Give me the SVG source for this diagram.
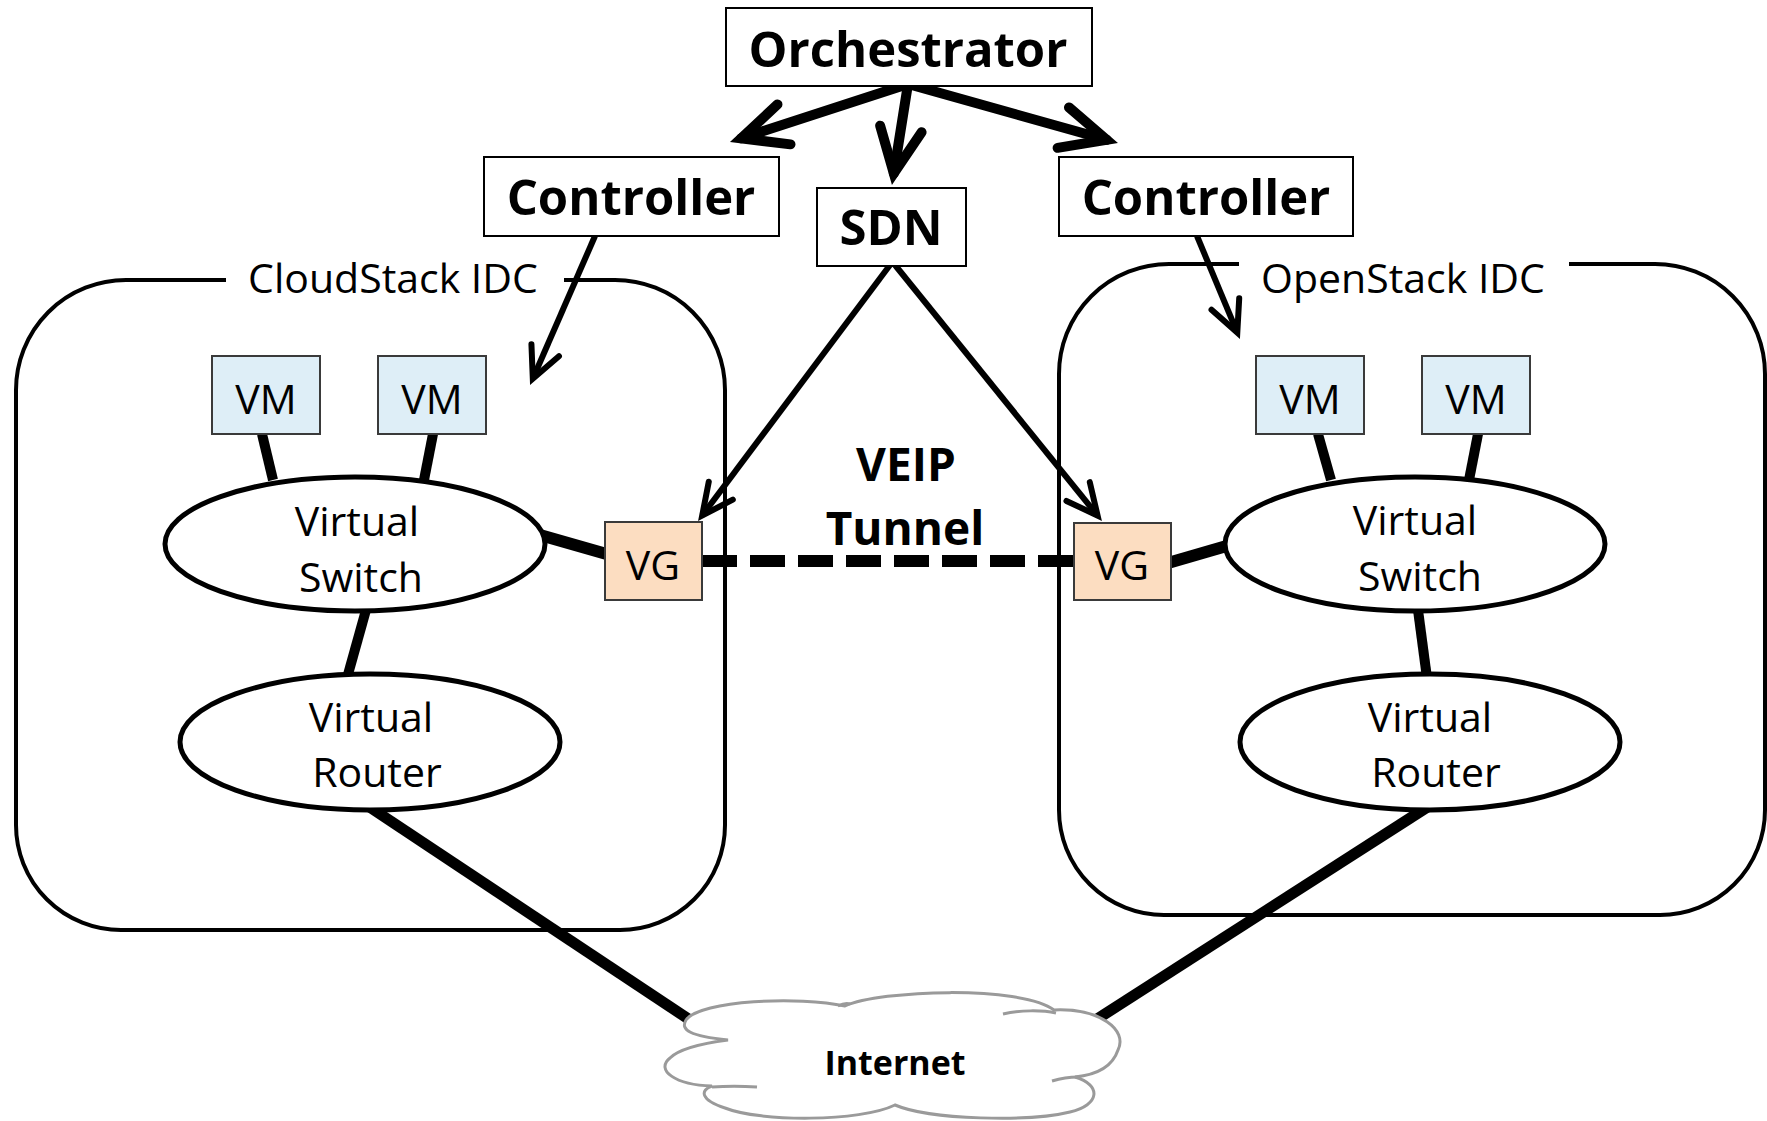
<svg xmlns="http://www.w3.org/2000/svg" width="1767" height="1121" viewBox="0 0 1767 1121">
<style>
.box{fill:#fff;stroke:#000;stroke-width:2}
.vm{fill:#DEEEF7;stroke:#3a3a3a;stroke-width:2}
.vg{fill:#FCDDC1;stroke:#3a3a3a;stroke-width:2}
.ell{fill:#fff;stroke:#000;stroke-width:5}
.cont{fill:none;stroke:#000;stroke-width:4}
.cloud{fill:#fff;stroke:#9a9a9a;stroke-width:3}
.curl{fill:none;stroke:#9a9a9a;stroke-width:3}
.t{font-family:"Open Sans","Noto Sans",sans-serif;text-anchor:middle;fill:#000}
.b{font-weight:bold;font-size:49px}
.r{font-size:41px}
.ln{stroke:#000;fill:none}
.w10{stroke-width:10}
.w11{stroke-width:11}
.w12{stroke-width:12}
.ab{stroke-width:10;stroke-linecap:round;marker-end:url(#headBig)}
.as{stroke-width:6;marker-end:url(#headSmall)}
.dash{stroke-width:12;stroke-dasharray:35 13}
</style>
<defs>
<marker id="headBig" markerUnits="userSpaceOnUse" viewBox="-60 -35 80 70" refX="0" refY="0" markerWidth="80" markerHeight="70" orient="auto">
<path d="M-45,-21 L0,0 L-45,21" fill="none" stroke="#000" stroke-width="10" stroke-linecap="round" stroke-linejoin="miter"/>
</marker>
<marker id="headSmall" markerUnits="userSpaceOnUse" viewBox="-45 -25 60 50" refX="0" refY="0" markerWidth="60" markerHeight="50" orient="auto">
<path d="M-31,-15 L0,0 L-31,15" fill="none" stroke="#000" stroke-width="6" stroke-linecap="round" stroke-linejoin="miter"/>
</marker>
</defs>
<rect width="1767" height="1121" fill="#fff"/>

<g id="cloudstack-idc">
<path class="cont" d="M226,280 H126 A110,110 0 0 0 16,390 V825 A105,105 0 0 0 121,930 H620 A105,105 0 0 0 725,825 V390 A110,110 0 0 0 615,280 H564"/>
<text class="t r" x="393" y="293">CloudStack IDC</text>
</g>
<g id="openstack-idc">
<path class="cont" d="M1239,264 H1169 A110,110 0 0 0 1059,374 V810 A105,105 0 0 0 1164,915 H1660 A105,105 0 0 0 1765,810 V374 A110,110 0 0 0 1655,264 H1569"/>
<text class="t r" x="1403" y="293">OpenStack IDC</text>
</g>

<g id="connectors">
<line class="ln ab" x1="908" y1="84" x2="741.2" y2="138.3"/>
<line class="ln ab" x1="908" y1="84" x2="893.8" y2="173.4"/>
<line class="ln ab" x1="908" y1="84" x2="1106.6" y2="139.8"/>
<line class="ln as" x1="595" y1="236" x2="532.8" y2="378.7"/>
<line class="ln as" x1="1197" y1="236" x2="1237.3" y2="332.6"/>
<line class="ln as" x1="890" y1="265" x2="702.2" y2="515.5"/>
<line class="ln as" x1="895" y1="265" x2="1097.6" y2="515.6"/>
<line class="ln w10" x1="262" y1="434" x2="273" y2="480"/>
<line class="ln w10" x1="433" y1="434" x2="424" y2="480"/>
<line class="ln w12" x1="540" y1="535" x2="610" y2="555"/>
<line class="ln w10" x1="366" y1="610" x2="347" y2="678"/>
<line class="ln w11" x1="362" y1="802" x2="705" y2="1030"/>
<line class="ln w10" x1="1318" y1="434" x2="1331" y2="480"/>
<line class="ln w10" x1="1478" y1="434" x2="1469" y2="480"/>
<line class="ln w12" x1="1168" y1="563" x2="1230" y2="545"/>
<line class="ln w10" x1="1418" y1="610" x2="1427" y2="678"/>
<line class="ln w11" x1="1429" y1="806" x2="1080" y2="1030"/>
<line class="ln dash" x1="702" y1="561" x2="1074" y2="561"/>
</g>

<g id="orchestrator">
<rect class="box" x="726" y="8" width="366" height="78"/>
<text class="t b" x="908" y="67">Orchestrator</text>
</g>
<g id="controller-left">
<rect class="box" x="484" y="157" width="295" height="79"/>
<text class="t b" x="631" y="215">Controller</text>
</g>
<g id="sdn">
<rect class="box" x="817" y="188" width="149" height="78"/>
<text class="t b" x="891" y="245">SDN</text>
</g>
<g id="controller-right">
<rect class="box" x="1059" y="157" width="294" height="79"/>
<text class="t b" x="1206" y="215">Controller</text>
</g>

<g id="vm-l1">
<rect class="vm" x="212" y="356" width="108" height="78"/>
<text class="t r" x="266" y="414">VM</text>
</g>
<g id="vm-l2">
<rect class="vm" x="378" y="356" width="108" height="78"/>
<text class="t r" x="432" y="414">VM</text>
</g>
<g id="vswitch-left">
<ellipse class="ell" cx="355" cy="544" rx="190" ry="67"/>
<text class="t r" x="357" y="536">Virtual</text>
<text class="t r" x="361" y="592">Switch</text>
</g>
<g id="vrouter-left">
<ellipse class="ell" cx="370" cy="742" rx="190" ry="68"/>
<text class="t r" x="371" y="732">Virtual</text>
<text class="t r" x="377" y="787">Router</text>
</g>
<g id="vg-left">
<rect class="vg" x="605" y="522" width="97" height="78"/>
<text class="t r" x="653" y="580">VG</text>
</g>

<g id="vm-r1">
<rect class="vm" x="1256" y="356" width="108" height="78"/>
<text class="t r" x="1310" y="414">VM</text>
</g>
<g id="vm-r2">
<rect class="vm" x="1422" y="356" width="108" height="78"/>
<text class="t r" x="1476" y="414">VM</text>
</g>
<g id="vswitch-right">
<ellipse class="ell" cx="1415" cy="544" rx="190" ry="67"/>
<text class="t r" x="1415" y="535">Virtual</text>
<text class="t r" x="1420" y="591">Switch</text>
</g>
<g id="vrouter-right">
<ellipse class="ell" cx="1430" cy="742" rx="190" ry="68"/>
<text class="t r" x="1430" y="732">Virtual</text>
<text class="t r" x="1436" y="787">Router</text>
</g>
<g id="vg-right">
<rect class="vg" x="1074" y="523" width="97" height="77"/>
<text class="t r" x="1122" y="580">VG</text>
</g>

<g id="veip-label">
<text class="t" style="font-weight:bold;font-size:46px"><tspan x="906" y="481">VEIP</tspan><tspan x="905" y="545">Tunnel</tspan></text>
</g>

<g id="internet">
<path class="cloud" d="M728,1040 C690,1036 680,1030 686,1020 C700,1000 800,996 845,1006 C880,990 1020,985 1054,1010 C1100,1008 1128,1030 1118,1050 C1112,1068 1095,1075 1075,1077 C1102,1085 1100,1105 1070,1112 C1030,1122 930,1120 895,1105 C860,1122 760,1122 725,1108 C700,1100 700,1090 712,1086 C675,1085 655,1070 670,1058 C680,1048 705,1043 728,1040 Z"/>
<path class="curl" d="M1003,1014 C1020,1010 1042,1010 1056,1013"/>
<path class="curl" d="M1052,1081 C1062,1078 1070,1077 1078,1077"/>
<path class="curl" d="M757,1087 C742,1086 726,1086 712,1087"/>
<path class="curl" d="M838,1006 C842,1004 846,1003 850,1004"/>
<text class="t" x="895" y="1075" style="font-weight:bold;font-size:34px">Internet</text>
</g>
</svg>
